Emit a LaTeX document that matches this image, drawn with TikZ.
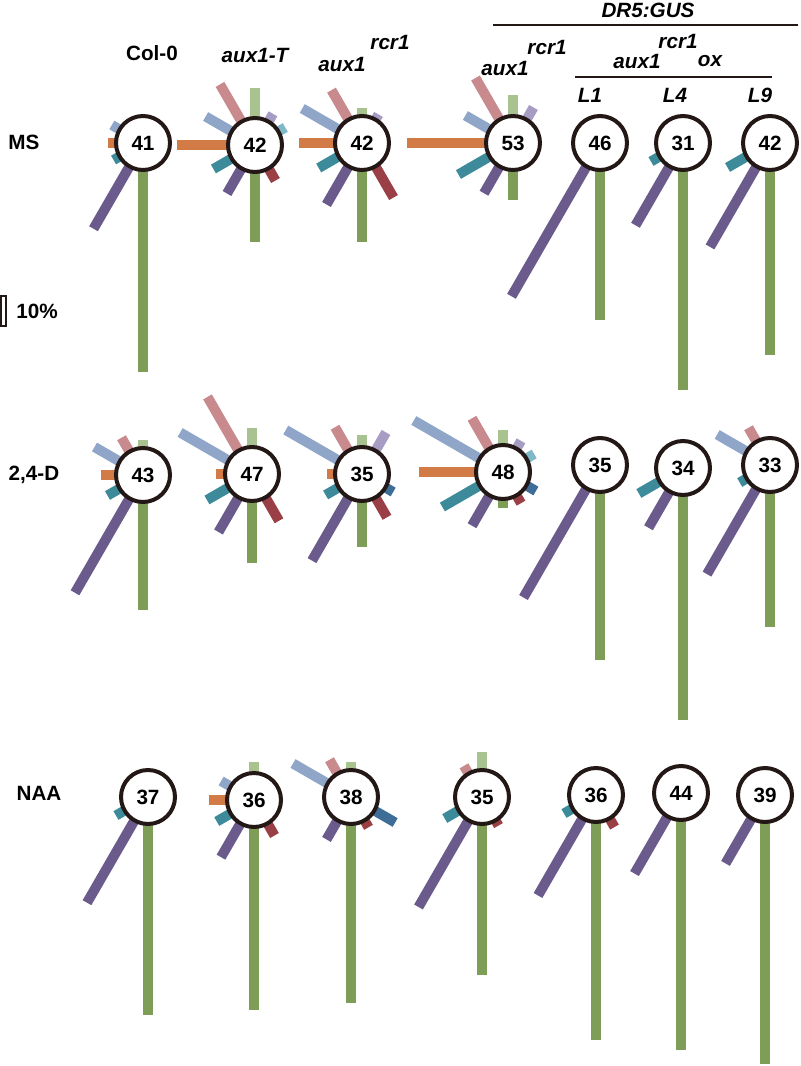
\documentclass[tikz,border=0pt]{standalone}
\usepackage{fontspec}
\setmainfont{Liberation Sans}
\definecolor{d180}{HTML}{D27B47}
\definecolor{d150}{HTML}{8FA6C9}
\definecolor{d120}{HTML}{C98A8E}
\definecolor{d90}{HTML}{A8C290}
\definecolor{d60}{HTML}{A69CC4}
\definecolor{d30}{HTML}{7FB9C9}
\definecolor{d330}{HTML}{3E6E98}
\definecolor{d300}{HTML}{9A3F45}
\definecolor{d270}{HTML}{7E9E57}
\definecolor{d240}{HTML}{6B5B8D}
\definecolor{d210}{HTML}{3D8B9A}
\definecolor{ringc}{HTML}{231815}
\newcommand\myrose[5]{%
  \coordinate (#1c) at (#2,-#3);
  \foreach \a/\l in {#5} \draw[bar, color=d\a] (#1c) -- ++(\a:\l);
  \node[hub] (#1) at (#1c) {#4};
}
\begin{document}
\begin{tikzpicture}[x=0.75pt,y=0.75pt,
  bar/.style={line width=7.5pt, line cap=butt},
  hub/.style={circle, draw=ringc, line width=3pt, fill=white, minimum size=40.5pt, inner sep=0pt, font=\fontsize{15.5}{18}\selectfont\bfseries},
  lab/.style={font=\fontsize{15.5}{18}\selectfont\bfseries, inner sep=0pt, text=black},
  ilab/.style={font=\fontsize{15.5}{18}\selectfont\bfseries\itshape, inner sep=0pt, text=black},
  rule/.style={draw=ringc, line width=2.2pt}]
\useasboundingbox (0,0) rectangle (800,-1066);
% headers
\node[lab] (hcol) at (152,-53) {Col-0};
\node[ilab] (haux) at (255,-55) {aux1-T};
\node[ilab] (hdA) at (342,-64) {aux1};
\node[ilab] (hdB) at (390,-42) {rcr1};
\node[ilab] (heA) at (505,-68) {aux1};
\node[ilab] (heB) at (547,-47) {rcr1};
\node[ilab] (hdr) at (648,-10) {DR5:GUS};
\coordinate (l1a) at (493,-25); \coordinate (l1b) at (798,-25);
\draw[rule] (l1a) -- (l1b);
\node[ilab] (hfB) at (678,-41) {rcr1};
\node[ilab] (hfA) at (637,-61) {aux1};
\node[ilab] (hfC) at (710,-61) {ox};
\coordinate (l2a) at (575,-77); \coordinate (l2b) at (772,-77);
\draw[rule] (l2a) -- (l2b);
\node[ilab] (hL1) at (590,-95) {L1};
\node[ilab] (hL4) at (675,-95) {L4};
\node[ilab] (hL9) at (760,-95) {L9};
% row labels
\node[lab] (rMS) at (24,-142) {MS};
\node[lab] (rD) at (34,-475) {2,4-D};
\node[lab] (rN) at (39,-793) {NAA};
% scale
\draw[ringc, line width=1.2pt, fill=white] (1,-296) rectangle (6,-326);
\node[lab] (sc) at (37,-311) {10\%};
% row 1
\myrose{a1}{143}{143}{41}{180/35,150/36,210/34,240/99,270/229}
\myrose{a2}{255}{145}{42}{180/78,150/57,120/70,90/57,60/36,30/35,210/48,240/56,300/41,270/97}
\myrose{a3}{362}{143}{42}{180/63,150/69,120/61,90/35,60/33,210/50,240/71,300/63,270/99}
\myrose{a4}{513}{143}{53}{180/106,150/55,120/75,90/48,60/41,210/63,240/58,270/57}
\myrose{a5}{600}{143}{46}{240/177,270/177}
\myrose{a6}{683}{143}{31}{210/37,240/95,270/247}
\myrose{a7}{770}{143}{42}{210/49,240/120,270/212}
% row 2
\myrose{b1}{143}{475}{43}{180/42,150/56,120/43,90/35,210/41,240/136,270/135}
\myrose{b2}{252}{474}{47}{180/36,150/83,120/89,90/46,210/52,240/67,300/54,270/89}
\myrose{b3}{362}{474}{35}{180/35,150/88,120/54,90/39,60/48,210/42,330/36,240/100,300/50,270/73}
\myrose{b4}{503}{472}{48}{180/84,150/103,120/62,90/42,60/36,30/36,210/70,240/62,300/36,330/38,270/36}
\myrose{b5}{600}{465}{35}{240/153,270/195}
\myrose{b6}{683}{468}{34}{210/51,240/69,270/252}
\myrose{b7}{770}{465}{33}{150/61,120/43,210/35,240/126,270/162}
% row 3
\myrose{c1}{148}{797}{37}{210/37,240/122,270/218}
\myrose{c2}{254}{800}{36}{150/38,180/45,90/38,210/43,240/66,300/41,270/210}
\myrose{c3}{351}{797}{38}{150/67,120/43,90/35,330/51,300/35,240/49,270/206}
\myrose{c4}{482}{797}{35}{120/36,90/45,210/43,300/33,240/127,270/178}
\myrose{c5}{596}{795}{36}{210/37,300/37,240/116,270/245}
\myrose{c6}{681}{793}{44}{240/93,270/257}
\myrose{c7}{765}{795}{39}{240/79,270/269}
\end{tikzpicture}
\end{document}
